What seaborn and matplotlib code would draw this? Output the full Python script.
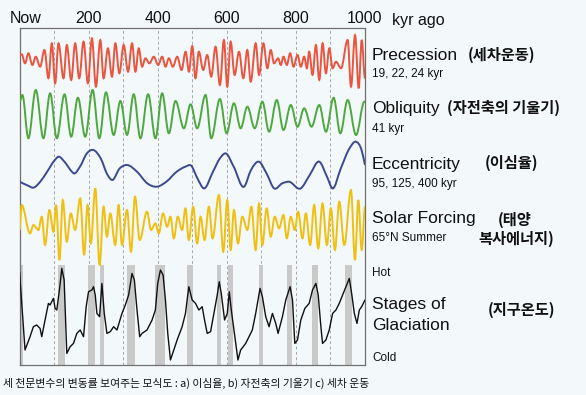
import matplotlib.pyplot as plt
import matplotlib.transforms as mtransforms
from matplotlib.path import Path
from matplotlib.patches import PathPatch
import numpy as np
import seaborn as sns

sns.set_style("white")
plt.rcParams["font.family"] = ["Liberation Sans", "Noto Sans CJK KR", "DejaVu Sans"]

# --- dati (kyr fa, ampiezza in pixel verso l'alto) ---
# precessione / obliquita' / forzante solare: solo massimi e minimi
prec_t = [0, 6.4, 16, 25.7, 37.3, 47, 59.6, 72.2, 83.8, 93.5, 103.2, 112.8, 127.4, 137, 149.6,
          161.2, 172.8, 185.4, 198, 209.6, 221.2, 233.8, 243.5, 256, 267.7, 277.4, 289, 301.6,
          314.2, 325.8, 335.5, 345.2, 354.8, 364.5, 376.1, 388.7, 401.3, 412.9, 422.6, 432.3,
          443.9, 456.5, 469.1, 480.7, 490.4, 500, 509.4, 519.1, 531.7, 543.3, 554.9, 567.5,
          580.1, 591.7, 601.4, 611.1, 622.7, 635.3, 647.8, 659.5, 669.1, 683.7, 693.3, 705.9,
          717.5, 727.2, 736.9, 748.5, 756.3, 764, 773.7, 783.4, 793, 804.7, 814.3, 824, 831.8,
          838.5, 848.2, 857.9, 867.6, 877.3, 886.9, 896.6, 906.3, 916, 930.5, 949.9, 959.5,
          971.2, 981.8, 990.5, 1000]
prec_v = [5, 5.7, -3.3, 6.7, -5, 3.3, -6.7, 10, -18.3, 16.7, -23.3, 16.7, -18.3, 15, -20,
          16.7, -18.3, 18.3, -23.3, 21.7, -26.7, 20, -18.3, 11.7, -16.7, 16.7, -13.3, 15,
          -11.7, 16.7, -11.7, 11.7, -6.7, 1.7, -3.3, 3.3, -5, 3.3, -6.7, 1.7,
          -6.7, 3.3, -10, 8.3, -11.7, 14, -18.3, 8.3, -10, 5, -16.7, 13.3,
          -25, 20, -26.7, 18.3, -15, 8.3, -18.3, 10, -21.7, 16.7, -15, 16.7,
          -8.3, 10, -3.3, 1.7, -5, 3.3, -5, 6.7, -6.7, 5, -6.7, 3.3, -8.3,
          8.3, -15, 15, -20, 16.7, -13.3, 11.7, -8.3, -1.7, -8.3, 20, -26.7,
          25, -28.3, 20, -18.3]

obl_t = [0, 8.3, 25.7, 47, 69.3, 88.6, 108, 130.3, 149.6, 169, 190.3, 211.6, 231, 250.3,
         272.6, 292, 311.3, 330.6, 350, 372.3, 393.6, 412.9, 432.3, 451.6, 475.8, 495.2,
         514.3, 538.5, 555, 580.1, 599.4, 620.7, 640.1, 659.5, 680.8, 703, 722.4, 744.6,
         764, 785.3, 804.7, 824, 845.3, 867.6, 887, 909.2, 928.6, 949.9, 974.1, 998.3, 1000]
obl_v = [12, 19, -24.3, 24, -24.3, 20.7, -24.3, 19.7, -22.7, 16.3, -22.7, 24, -24.3, 21.7,
         -21, 13, -21, 19.7, -24.3, 19.7, -24.3, 20.7, -19.3, 13, -14.3, 9.7,
         -14.3, 19, -24.3, 15, -19.3, 10.7, -14.3, 7.3, -14.3, 12.3, -17.7, 14,
         -16, 9, -12.7, 5.7, -12.7, 9, -17.7, 16.3, -19.3, 14, -21, 12.3, 12]

ecc_t = [0, 25, 40, 60, 80, 100, 113, 130, 150, 157, 175, 195, 214, 235, 255, 268, 290, 311,
         340, 370, 398, 425, 455, 480, 497, 515, 534, 560, 580, 597, 620, 650, 670, 693, 715,
         737, 760, 780, 814, 840, 868, 890, 906, 930, 955, 974, 990, 1000]
ecc_v = [-15, -19, -21, -15, -5, 5.7, 10, 5, -4.3, -6.7, 0, 13.3, 16.7, 8.3, -8.3, -13.3, -1.7,
         1.7, -5, -16.7, -20, -15, -5, 0, 1, -11.7, -21.7, -5, 8.3, 13.3, 0, -20, -3.3, 5,
         -6.7, -21.7, -16.7, -15, -21.7, -8.3, 5, -10, -21.7, -1.7, 18.3, 25, 16.7, 1.7]

sol_t = [0, 6.3, 30.5, 40.2, 54.7, 64.4, 74, 86.6, 98.2, 106, 115.6, 125.3, 136.9, 148.5,
         161.1, 175.6, 187.2, 196.9, 206.6, 219.2, 231.8, 243.4, 253.2, 262.7, 277.2, 286.9,
         296.6, 311.1, 322.7, 334.3, 347.9, 369.1, 380.8, 393.3, 403, 415.6, 427.2, 436.9,
         446.6, 458.2, 470.7, 480.4, 490.1, 502.7, 514.3, 524, 535.6, 548.2, 558.8, 577.2,
         589.8, 601.4, 611.2, 620.7, 632.3, 644.9, 659.4, 671, 683.6, 693.3, 702.9, 715.5,
         727.2, 738.8, 751.3, 763.9, 773.6, 785.2, 796.8, 806.5, 819.1, 828.7, 841.3, 852.9,
         864.5, 877.1, 889.7, 901.3, 912.9, 925.5, 940, 959.4, 971, 980.7, 990.4, 1000]
sol_v = [-3.3, 21.7, -6.7, 1.7, -3.3, 10, -18.3, 16.7, -5, 21.7, -33.3, 26.7, -15, 13.3,
         -3.3, 28.3, -28.3, 21.7, -16.7, 38.3, -38.3, 20, -10, 13.3, -18.3, 21.7,
         -18.3, 16.7, -25, 30, -13.3, 15, -3.3, 3.3, -6.7, 13.3, 0, 10,
         -11.7, 10, -3.3, 18.3, -13.3, 20, -16.7, 10, -13.3, 20, -11.7, 31.7,
         -25, 26.7, -23.3, 16.7, -16.7, 10, -3.3, 20, -23.3, 23.3, -18.3, 18.3,
         -10, 10, -1.7, 11.7, -11.7, 10, -3.3, 15, -11.7, 13.3, -18.3, 21.7,
         -21.7, 23.3, -18.3, 18.3, -23.3, 25, -18.3, 36.7, -33.3, 26.7, -23.3, 20]

gla_t = [0, 16, 30.5, 40.2, 49.8, 59.5, 64.4, 74, 83.7, 88.5, 98.2, 103.1, 107.9, 115.6,
         122.4, 129.2, 136.9, 146.6, 156.3, 166, 175.6, 185.3, 193, 199.8, 209.5, 214.3,
         219.2, 224, 231.8, 238.5, 245.3, 253, 262.7, 272.4, 282.1, 296.6, 306.3, 315.9,
         325.6, 332.4, 340.1, 347.9, 354.6, 369.1, 383.7, 393.3, 400.1, 407.9, 415.6, 422.4,
         429.1, 436.9, 446.6, 456.2, 470.7, 480.4, 490.1, 499.8, 509.5, 519.1, 528.8, 535.6,
         543.3, 553, 562.7, 572.3, 578.1, 583.9, 593.6, 601.4, 607.2, 613, 620.7, 632.3,
         640.1, 654.6, 664.3, 673.9, 683.6, 696.2, 703, 712.7, 722.3, 732, 741.7, 748.4,
         761, 770.7, 783.3, 790.1, 796.8, 804.6, 814.2, 825.9, 838.4, 848.1, 857.8, 864.6,
         872.3, 877.1, 886.8, 896.5, 906.2, 915.8, 925.5, 935.2, 944.9, 954.6, 961.3, 969.1,
         976.8, 983.6, 990.4, 1000]
gla_v = [45, -33.3, -20, -10, -8.3, -11.7, -20, -3.3, 13.3, 11.7, 18.3, 8.3, 6.7, 26.7,
         48.3, 36.7, -36.7, -30, -26.7, -16.7, -13.3, -20, 10, 25, 26.7, 30,
         21.7, 3.3, 0, 33.3, 3.3, -16.7, -15, -10, -13.3, 3.3, 11.7, 21.7,
         43.3, 36.7, 6.7, -20, -16.7, -13.3, -3.3, 6.7, 33.3, 46.7, 41.7, 16.7,
         -16.7, -43.3, -33.3, -23.3, -10, 3.3, 30, 16.7, 13.3, 6.7, 10, -3.3,
         -16.7, -15, 3.3, 21.7, 35, 23.3, -3.3, 3.3, 25, 6.7, -13.3, -43.3,
         -33.3, -26.7, -20, -13.3, 3.3, 28.3, 20, 0, -10, 3.3, -6.7, -16.7,
         0, 16.7, 30, 16.7, -26.7, -23.3, -3.3, 8.3, 13.3, 26.7, 33.3, 21.7,
         -10, -26.7, -23.3, -13.3, 3.3, 6.7, 13.3, 21.7, 30, 38.3, 23.3, 3.3,
         -6.7, 6.7, 10, 16.7]

# interglaciali (bande grigie)
warm_start = [0, 112.7, 197.9, 233.7, 311.1, 393.3, 485.3, 572.3, 604.3, 693.3, 773.6, 845.2, 942.9]
warm_end = [11.1, 132.1, 219.2, 243.4, 335.3, 422.4, 502.7, 583.9, 618.8, 704.9, 790.1, 864.6, 961.3]

tick_kyr = [200, 400, 600, 800, 1000]
grid_kyr = [100, 200, 300, 400, 500, 600, 700, 800, 900]

W, H = 586, 395
BG = "#f3f8fb"


def curva_estremi(t, y, k=0.36):
    # curva di Bezier con tangente orizzontale su ogni massimo/minimo
    verts = [(t[0], y[0])]
    codes = [Path.MOVETO]
    for i in range(len(t) - 1):
        d = t[i + 1] - t[i]
        verts += [(t[i] + k * d, y[i]), (t[i + 1] - k * d, y[i + 1]), (t[i + 1], y[i + 1])]
        codes += [Path.CURVE4] * 3
    return Path(verts, codes)


def curva_morbida(t, y):
    # Catmull-Rom per i punti letti lungo la curva
    t = np.asarray(t, float)
    y = np.asarray(y, float)
    m = np.gradient(y, t)
    verts = [(t[0], y[0])]
    codes = [Path.MOVETO]
    for i in range(len(t) - 1):
        d = t[i + 1] - t[i]
        verts += [(t[i] + d / 3, y[i] + m[i] * d / 3),
                  (t[i + 1] - d / 3, y[i + 1] - m[i + 1] * d / 3),
                  (t[i + 1], y[i + 1])]
        codes += [Path.CURVE4] * 3
    return Path(verts, codes)


fig = plt.figure(figsize=(W / 100, H / 100), dpi=100, facecolor=BG)
# assi in coordinate pixel: y dati = y pixel
ax = fig.add_axes([19.5 / W, 1 - 365 / H, (365 - 19.5) / W, (365 - 28) / H])
ax.set_facecolor(BG)

for g in grid_kyr:
    ax.axvline(g, color="#a8a8a8", lw=0.7, ls=(0, (3, 2.5)), zorder=1)

ax.bar(warm_start, 100, width=np.array(warm_end) - np.array(warm_start),
       bottom=265, align="edge", color="#c9c9c9", edgecolor="none", zorder=1)

onde = [
    (curva_estremi, prec_t, prec_v, 60, "#e9553f"),
    (curva_estremi, obl_t, obl_v, 114, "#4ea83e"),
    (curva_morbida, ecc_t, ecc_v, 166.7, "#3b4a8f"),
    (curva_estremi, sol_t, sol_v, 226.7, "#f0c010"),
]
for fn, t, v, centro, col in onde:
    ax.add_patch(PathPatch(fn(t, centro - np.array(v)), facecolor="none",
                           edgecolor=col, lw=1.4, zorder=3))

sns.lineplot(x=np.array(gla_t), y=316.7 - np.array(gla_v), ax=ax, color="#111111",
             lw=1.0, sort=False, zorder=3)

ax.set_xlim(0, 1000)
ax.set_ylim(365, 28)
ax.set_xticks([])
ax.set_yticks([])
ax.set_xlabel("")
ax.set_ylabel("")
for s in ax.spines.values():
    s.set_color("#707070")
    s.set_linewidth(0.9)

# etichette asse superiore
trans = mtransforms.blended_transform_factory(ax.transData, ax.transAxes)
ax.text(-27, 1.005, "Now", transform=trans, ha="left", va="bottom", fontsize=11.5, color="#111111")
for k in tick_kyr:
    ax.text(k, 1.005, str(k), transform=trans, ha="center", va="bottom", fontsize=11.5, color="#111111")
fig.text(392 / W, 1 - 21 / H, "kyr ago", ha="left", va="center", fontsize=11.5, color="#111111")


def lab(x, y, s, size=12.5, **kw):
    fig.text(x / W, 1 - y / H, s, ha="left", va="center", fontsize=size, color="#111111", **kw)


KR = dict(family=["Noto Sans CJK KR", "DejaVu Sans"], fontweight="bold")
lab(372, 56, "Precession")
lab(468, 55, "(세차운동)", 11, **KR)
lab(372, 74, "19, 22, 24 kyr", 8.5)
lab(372, 108, "Obliquity")
lab(447, 108, "(자전축의 기울기)", 11, **KR)
lab(372, 129, "41 kyr", 8.5)
lab(372, 164, "Eccentricity")
lab(485, 163, "(이심율)", 11, **KR)
lab(372, 184, "95, 125, 400 kyr", 8.5)
lab(372, 219, "Solar Forcing")
lab(498, 220, "(태양", 11, **KR)
lab(372, 238, "65°N Summer", 8.5)
lab(478, 239, "복사에너지)", 11, **KR)
lab(372, 273, "Hot", 8.5)
lab(372, 305, "Stages of")
lab(372, 325, "Glaciation")
lab(488, 310, "(지구온도)", 11, **KR)
lab(372, 358, "Cold", 8.5)

fig.text(3 / W, 1 - 383 / H, "세 천문변수의 변동률 보여주는 모식도 : a) 이심율, b) 자전축의 기울기 c) 세차 운동",
         ha="left", va="center", fontsize=7.8, color="#111111",
         family=["Noto Sans CJK KR", "DejaVu Sans"])

fig.savefig("out.png", dpi=100, facecolor=BG)
